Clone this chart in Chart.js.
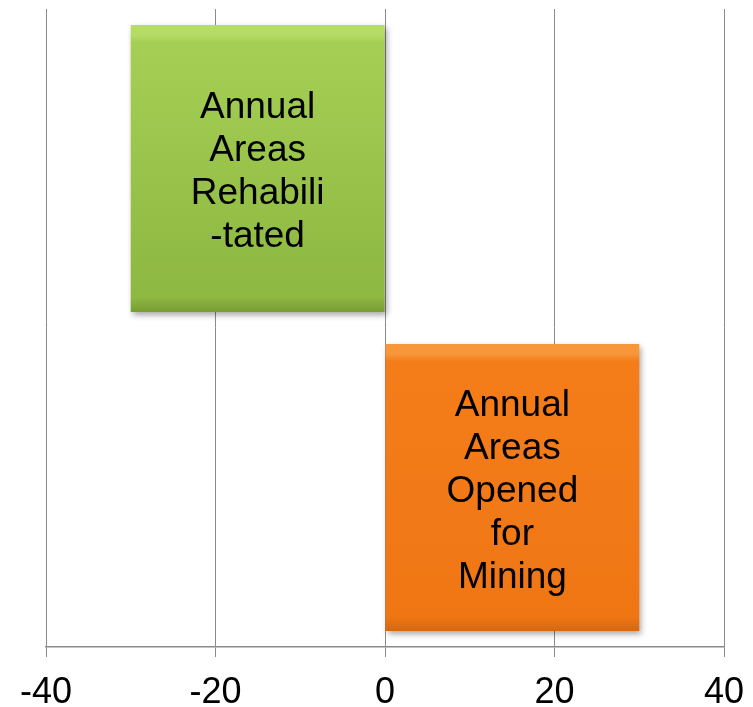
<!DOCTYPE html>
<html>
<head>
<meta charset="utf-8">
<title>Annual areas</title>
<script src="https://cdn.jsdelivr.net/npm/chart.js@4"></script>
<style>
  html, body { margin: 0; padding: 0; background: #fff; }
  #wrap { width: 753px; height: 707px; position: relative; }
</style>
</head>
<body>
<div id="wrap"><canvas id="areaChart"></canvas></div>
<script>
// ---- data ----
const categories = ['Annual Areas Rehabilitated', 'Annual Areas Opened for Mining'];
const areaValues = [-30, 30];
const barLines = [
    ['Annual', 'Areas', 'Rehabili', '-tated'],
    ['Annual', 'Areas', 'Opened', 'for', 'Mining']
];
const xTicks = [-40, -20, 0, 20, 40];

// bevel top / upper body / lower body / bottom edge for each bar
const barShades = [
    ['#b4dc66', '#a5cf54', '#8db841', '#789d33'],
    ['#f8963a', '#f47d1a', '#f07614', '#d6670e']
];

function barFill(ctx) {
    const chart = ctx.chart;
    const yScale = chart.scales.y;
    const shades = barShades[ctx.dataIndex] || barShades[0];
    if (!yScale || !chart.chartArea) return shades[1];
    const mid = yScale.getPixelForValue(ctx.dataIndex);
    const half = yScale.height / categories.length * 0.45;
    const g = chart.ctx.createLinearGradient(0, mid - half, 0, mid + half);
    g.addColorStop(0, shades[0]);
    g.addColorStop(0.035, shades[0]);
    g.addColorStop(0.06, shades[1]);
    g.addColorStop(0.95, shades[2]);
    g.addColorStop(1, shades[3]);
    return g;
}

// soft drop shadow under the bars
const shadowPlugin = {
    id: 'barShadow',
    beforeDatasetDraw(chart) {
        const c = chart.ctx;
        c.save();
        c.shadowColor = 'rgba(0,0,0,0.35)';
        c.shadowBlur = 6;
        c.shadowOffsetX = 2;
        c.shadowOffsetY = 3;
    },
    afterDatasetDraw(chart) {
        chart.ctx.restore();
    }
};

// the text written inside each bar
const barTextPlugin = {
    id: 'barText',
    afterDatasetsDraw(chart) {
        const c = chart.ctx;
        const meta = chart.getDatasetMeta(0);
        const lineH = 43;
        c.save();
        c.font = '37px "Liberation Sans", Arial, sans-serif';
        c.fillStyle = '#000';
        c.textAlign = 'center';
        c.textBaseline = 'middle';
        meta.data.forEach((bar, i) => {
            const lines = barLines[i];
            const cx = (bar.x + bar.base) / 2;
            const top = bar.y + 4 - (lines.length - 1) * lineH / 2;
            lines.forEach((t, k) => c.fillText(t, cx, top + k * lineH));
        });
        c.restore();
    }
};

new Chart(document.getElementById('areaChart'), {
    type: 'bar',
    data: {
        labels: categories,
        datasets: [{
            data: areaValues,
            backgroundColor: barFill,
            borderWidth: 0,
            barPercentage: 0.9,
            categoryPercentage: 1.0
        }]
    },
    options: {
        indexAxis: 'y',
        responsive: true,
        maintainAspectRatio: false,
        animation: false,
        layout: { padding: { top: 9, left: 0, right: 0, bottom: -22 } },
        plugins: {
            legend: { display: false },
            tooltip: { enabled: false }
        },
        scales: {
            x: {
                min: xTicks[0],
                max: xTicks[xTicks.length - 1],
                afterBuildTicks(axis) {
                    axis.ticks = xTicks.map(v => ({ value: v }));
                },
                afterFit(axis) {
                    // side room for the end labels
                    axis.paddingLeft = 46;
                    axis.paddingRight = 29;
                },
                grid: {
                    color: '#8a8a8a',
                    lineWidth: 1,
                    tickLength: 10,
                    drawTicks: true
                },
                border: { color: '#8a8a8a', width: 1.5 },
                ticks: {
                    color: '#000',
                    padding: 18,
                    maxRotation: 0,
                    font: { family: '"Liberation Sans", Arial, sans-serif', size: 36, lineHeight: 1 }
                }
            },
            y: { display: false }
        }
    },
    plugins: [shadowPlugin, barTextPlugin]
});
</script>
</body>
</html>
